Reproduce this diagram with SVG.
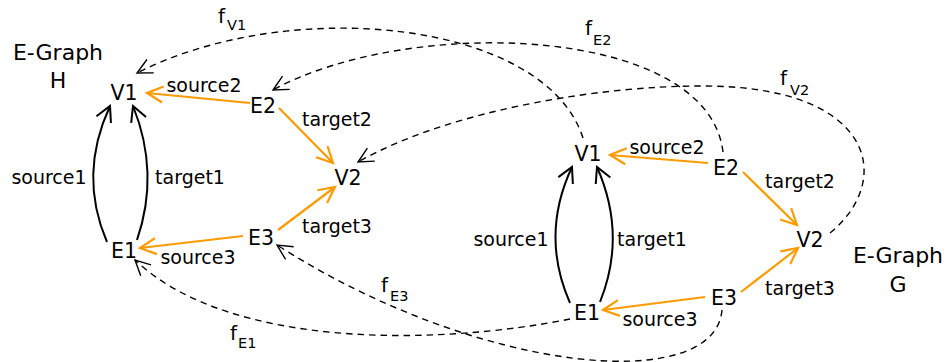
<svg xmlns="http://www.w3.org/2000/svg" width="950" height="362" viewBox="0 0 950 362">
<style>
text{font-family:"DejaVu Sans",sans-serif;fill:#000}
.node{font-size:20.5px;text-anchor:middle}
.lbl{font-size:19px;text-anchor:middle}
.title{font-size:22px;text-anchor:middle}
.fl{font-size:20px}
.sub{font-size:14.5px}
.or{fill:none;stroke:#ff9a00;stroke-width:2.2}
.bk{fill:none;stroke:#000;stroke-width:2}
.da{fill:none;stroke:#000;stroke-width:1.4;stroke-dasharray:6.5,5}
</style>
<defs>
<marker id="ao" markerUnits="userSpaceOnUse" markerWidth="40" markerHeight="40" viewBox="-20 -20 40 40" refX="0" refY="0" orient="auto"><path d="M-16,-8 L0,0 L-16,8" fill="none" stroke="#ff9a00" stroke-width="2.2"/></marker>
<marker id="ab" markerUnits="userSpaceOnUse" markerWidth="40" markerHeight="40" viewBox="-20 -20 40 40" refX="0" refY="0" orient="auto"><path d="M-15,-8 L0,0 L-15,8" fill="none" stroke="#000" stroke-width="2"/></marker>
<marker id="ad" markerUnits="userSpaceOnUse" markerWidth="40" markerHeight="40" viewBox="-20 -20 40 40" refX="0" refY="0" orient="auto"><path d="M-15,-7.5 L0,0 L-15,7.5" fill="none" stroke="#000" stroke-width="1.4"/></marker>
</defs>

<g id="connectors">
<!-- H -->
<path class="or" d="M250,103 L147,93" marker-end="url(#ao)"/>
<path class="or" d="M279,108 L333,163" marker-end="url(#ao)"/>
<path class="or" d="M278,230 L335,187" marker-end="url(#ao)"/>
<path class="or" d="M243,236 L140,248" marker-end="url(#ao)"/>
<path class="bk" d="M107,242 Q78,175 110,106" marker-end="url(#ab)"/>
<path class="bk" d="M137,240 Q160,173 133,106" marker-end="url(#ab)"/>
<!-- G -->
<path class="or" d="M708,163 L610,155" marker-end="url(#ao)"/>
<path class="or" d="M743,172 L797,225" marker-end="url(#ao)"/>
<path class="or" d="M741,292 L798,248" marker-end="url(#ao)"/>
<path class="or" d="M705,297 L603,310" marker-end="url(#ao)"/>
<path class="bk" d="M570,303 Q540,235 572,167" marker-end="url(#ab)"/>
<path class="bk" d="M600,302 Q627,235 597,167" marker-end="url(#ab)"/>
<!-- mappings -->
<path class="da" d="M583,138 C545,20 290,-5 137,73" marker-end="url(#ad)"/>
<path class="da" d="M723,152 C708,25 410,15 273,90" marker-end="url(#ad)"/>
<path class="da" d="M830,233 C895,180 875,85 700,86 C600,86 450,110 358,162" marker-end="url(#ad)"/>
<path class="da" d="M570,319 C440,345 230,350 135,260" marker-end="url(#ad)"/>
<path class="da" d="M722,310 C715,395 480,375 277,245" marker-end="url(#ad)"/>
</g>

<g id="edge-labels">
<text class="lbl" x="204" y="92">source2</text>
<text class="lbl" x="337" y="126">target2</text>
<text class="lbl" x="337" y="233">target3</text>
<text class="lbl" x="198" y="264">source3</text>
<text class="lbl" x="49" y="184">source1</text>
<text class="lbl" x="190" y="184">target1</text>
<text class="lbl" x="667" y="154">source2</text>
<text class="lbl" x="800" y="188">target2</text>
<text class="lbl" x="800" y="295">target3</text>
<text class="lbl" x="660" y="326">source3</text>
<text class="lbl" x="511" y="246">source1</text>
<text class="lbl" x="652" y="246">target1</text>
<text class="fl" x="218" y="23">f<tspan class="sub" x="227" y="30">V1</tspan></text>
<text class="fl" x="585" y="35">f<tspan class="sub" x="593" y="45">E2</tspan></text>
<text class="fl" x="780" y="85">f<tspan class="sub" x="790" y="95">V2</tspan></text>
<text class="fl" x="230" y="340">f<tspan class="sub" x="238" y="348">E1</tspan></text>
<text class="fl" x="381" y="292">f<tspan class="sub" x="390" y="301">E3</tspan></text>
</g>

<g id="graph-H-title"><text class="title" x="58" y="60">E-Graph</text><text class="title" x="58" y="88">H</text></g>
<g id="H-V1"><text class="node" x="124" y="100">V1</text></g>
<g id="H-E2"><text class="node" x="263" y="113">E2</text></g>
<g id="H-V2"><text class="node" x="348" y="185">V2</text></g>
<g id="H-E1"><text class="node" x="124" y="258">E1</text></g>
<g id="H-E3"><text class="node" x="261" y="245">E3</text></g>

<g id="graph-G-title"><text class="title" x="898" y="263">E-Graph</text><text class="title" x="898" y="292">G</text></g>
<g id="G-V1"><text class="node" x="588" y="161">V1</text></g>
<g id="G-E2"><text class="node" x="726" y="175">E2</text></g>
<g id="G-V2"><text class="node" x="810" y="247">V2</text></g>
<g id="G-E1"><text class="node" x="587" y="320">E1</text></g>
<g id="G-E3"><text class="node" x="724" y="305">E3</text></g>
</svg>
